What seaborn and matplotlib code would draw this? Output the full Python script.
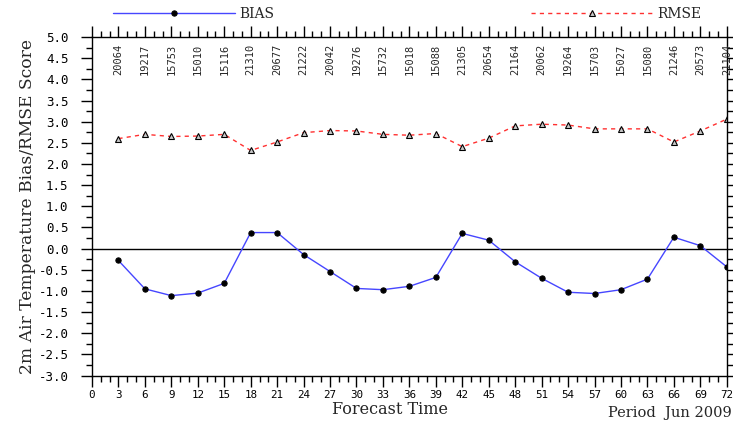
import numpy as np
import pandas as pd
import matplotlib
matplotlib.use("Agg")
import matplotlib.pyplot as plt
from matplotlib.ticker import MultipleLocator, FormatStrFormatter
import seaborn as sns

# forecast hours and scores
hours = [3, 6, 9, 12, 15, 18, 21, 24, 27, 30, 33, 36,
         39, 42, 45, 48, 51, 54, 57, 60, 63, 66, 69, 72]
bias = [-0.28, -0.95, -1.11, -1.05, -0.82, 0.38, 0.38, -0.14, -0.54, -0.94, -0.97, -0.89,
        -0.68, 0.36, 0.20, -0.31, -0.70, -1.03, -1.06, -0.97, -0.72, 0.27, 0.07, -0.43]
rmse = [2.60, 2.70, 2.65, 2.66, 2.70, 2.32, 2.52, 2.74, 2.79, 2.78, 2.70, 2.68,
        2.72, 2.41, 2.61, 2.90, 2.94, 2.92, 2.83, 2.83, 2.83, 2.52, 2.78, 3.06]
counts = ["20064", "19217", "15753", "15010", "15116", "21310", "20677", "21222",
          "20042", "19276", "15732", "15018", "15088", "21305", "20654", "21164",
          "20062", "19264", "15703", "15027", "15080", "21246", "20573", "21104"]

df = pd.DataFrame({"hour": hours, "BIAS": bias, "RMSE": rmse})

sns.set_style("ticks")
plt.rcParams["font.family"] = ["DejaVu Sans"]

fig = plt.figure(figsize=(7.33, 4.23), dpi=100)
ax = fig.add_axes([0.1255, 0.112, 0.866, 0.8005])

sns.lineplot(data=df, x="hour", y="BIAS", ax=ax, color="#4646ff", linewidth=1.0,
             marker="o", markersize=3.8, markerfacecolor="black", markeredgecolor="black",
             label="BIAS", legend=False)
sns.lineplot(data=df, x="hour", y="RMSE", ax=ax, color="#ff3030", linewidth=1.0,
             dashes=False, marker="^", markersize=4.2, markerfacecolor="#c8c8c8",
             markeredgecolor="black", markeredgewidth=0.8, label="RMSE", legend=False)
ax.lines[1].set_dashes([3, 3])

ax.axhline(0, color="black", linewidth=1.0, zorder=1)

for h, c in zip(hours, counts):
    ax.annotate(c, xy=(h, 5.0), xytext=(0, -4.5), textcoords="offset points",
                rotation=90, ha="center", va="top", fontsize=7.5,
                family="DejaVu Sans Mono")

ax.set_xlim(0, 72)
ax.set_ylim(-3, 5)
ax.xaxis.set_major_locator(MultipleLocator(3))
ax.xaxis.set_minor_locator(MultipleLocator(1))
ax.yaxis.set_major_locator(MultipleLocator(0.5))
ax.yaxis.set_minor_locator(MultipleLocator(0.25))
ax.yaxis.set_major_formatter(FormatStrFormatter("%.1f"))

ax.tick_params(which="both", direction="out", top=True, right=True, width=1.0,
               colors="black")
ax.tick_params(which="major", length=8)
ax.tick_params(which="minor", length=4.5)
ax.tick_params(axis="x", pad=2, labelsize=7.8)
ax.tick_params(axis="y", pad=9, labelsize=9)
for lab in ax.get_xticklabels() + ax.get_yticklabels():
    lab.set_family("DejaVu Sans Mono")
for sp in ax.spines.values():
    sp.set_linewidth(1.0)
    sp.set_color("black")

ax.set_xlabel("Forecast Time", family="DejaVu Serif", fontsize=11.5, labelpad=3)
ax.xaxis.set_label_coords(0.47, -0.075)
ax.set_ylabel("2m Air Temperature Bias/RMSE Score", family="DejaVu Serif",
              fontsize=12.3, labelpad=2)
fig.text(0.998, 0.006, "Period  Jun 2009", family="DejaVu Serif", fontsize=10.5,
         ha="right", va="bottom")

handles = ax.lines[:2]
fig.legend(handles, ["BIAS", "RMSE"], loc="center left",
           bbox_to_anchor=(113 / 733, 1 - 14 / 423), ncol=2, frameon=False,
           borderpad=0, borderaxespad=0, handlelength=8.8, handletextpad=0.3,
           columnspacing=18.5, numpoints=1, prop={"family": "DejaVu Serif", "size": 10})

fig.savefig("out.png", dpi=100)
plt.close("all")
